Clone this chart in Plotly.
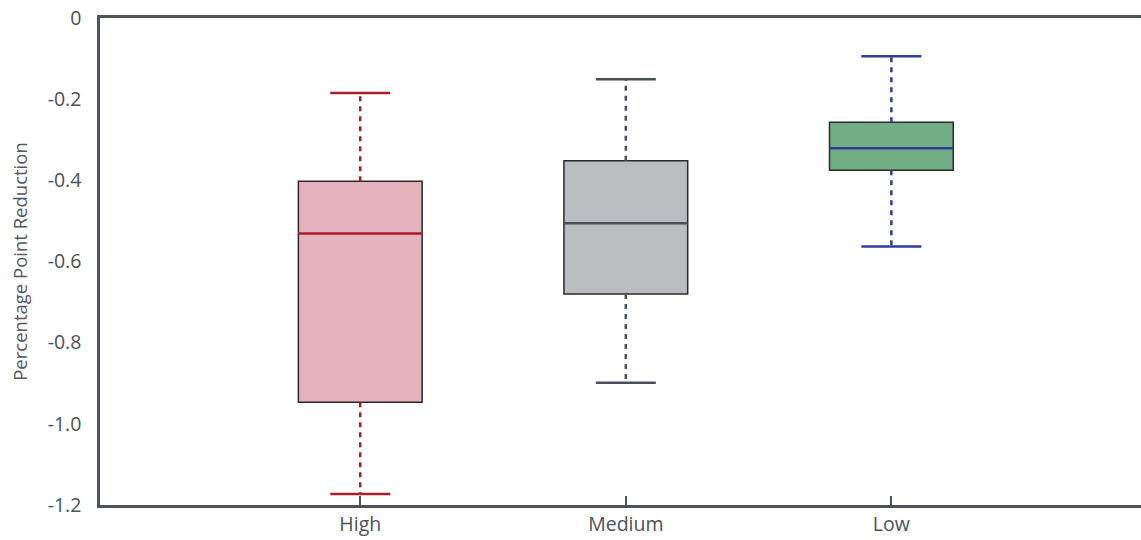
import plotly.graph_objects as go

# Exposure groups and their five-number summaries
categories = ["High", "Medium", "Low"]
lower_whisker = [-1.173, -0.899, -0.563]
q1 = [-0.947, -0.680, -0.375]
median = [-0.531, -0.506, -0.321]
q3 = [-0.402, -0.352, -0.257]
upper_whisker = [-0.185, -0.151, -0.094]

fill_colors = ["#e3b2bd", "#bbbcc0", "#72ae85"]
line_colors = ["#a81e2d", "#4a4e57", "#2f3c98"]

ytick_vals = [0, -0.2, -0.4, -0.6, -0.8, -1.0, -1.2]
ytick_text = ["0", "-0.2", "-0.4", "-0.6", "-0.8", "-1.0", "-1.2"]

axis_color = "#4d5159"
text_color = "#4d5159"
font_family = "Open Sans, sans-serif"

BOX_W = 0.466
CAP_W = 0.226

fig = go.Figure()

positions = list(range(len(categories)))

# Boxes (interquartile range) as floating bars
fig.add_trace(go.Bar(
    x=positions,
    base=q1,
    y=[b - a for a, b in zip(q1, q3)],
    width=BOX_W,
    marker=dict(color=fill_colors, line=dict(color="#2b2b2b", width=1.5)),
    hoverinfo="skip",
    showlegend=False,
))

for i, pos in enumerate(positions):
    c = line_colors[i]
    # dashed whiskers
    fig.add_trace(go.Scatter(
        x=[pos, pos], y=[q3[i], upper_whisker[i]], mode="lines",
        line=dict(color=c, width=2.5, dash="5px,5px"),
        hoverinfo="skip", showlegend=False,
    ))
    fig.add_trace(go.Scatter(
        x=[pos, pos], y=[q1[i], lower_whisker[i]], mode="lines",
        line=dict(color=c, width=2.5, dash="5px,5px"),
        hoverinfo="skip", showlegend=False,
    ))
    # whisker caps
    for v in (upper_whisker[i], lower_whisker[i]):
        fig.add_trace(go.Scatter(
            x=[pos - CAP_W / 2, pos + CAP_W / 2], y=[v, v], mode="lines",
            line=dict(color=c, width=2.5),
            hoverinfo="skip", showlegend=False,
        ))
    # median line
    fig.add_trace(go.Scatter(
        x=[pos - BOX_W / 2, pos + BOX_W / 2], y=[median[i], median[i]], mode="lines",
        line=dict(color=c, width=2.5),
        hoverinfo="skip", showlegend=False,
    ))

fig.update_layout(
    width=1141, height=540,
    margin=dict(l=100, r=0, t=18, b=35),
    paper_bgcolor="white", plot_bgcolor="white",
    font=dict(family=font_family, color=text_color, size=19.5),
    xaxis=dict(
        range=[-0.98, 2.94],
        tickvals=positions, ticktext=categories,
        showgrid=False, zeroline=False,
        showline=True, linecolor=axis_color, linewidth=2.5, mirror=True,
        ticks="inside", ticklen=9, tickwidth=2, tickcolor=axis_color,
        tickfont=dict(size=19.5, color=text_color),
    ),
    yaxis=dict(
        range=[-1.2, 0],
        tickvals=ytick_vals, ticktext=ytick_text,
        showgrid=False, zeroline=False,
        showline=True, linecolor=axis_color, linewidth=2.5,
        ticks="", ticklabelstandoff=12,
        tickfont=dict(size=19.5, color=text_color),
        title=dict(text="Percentage Point Reduction", font=dict(size=18.5, color="#55595f"), standoff=16),
    ),
)

fig.write_html("out.html")
